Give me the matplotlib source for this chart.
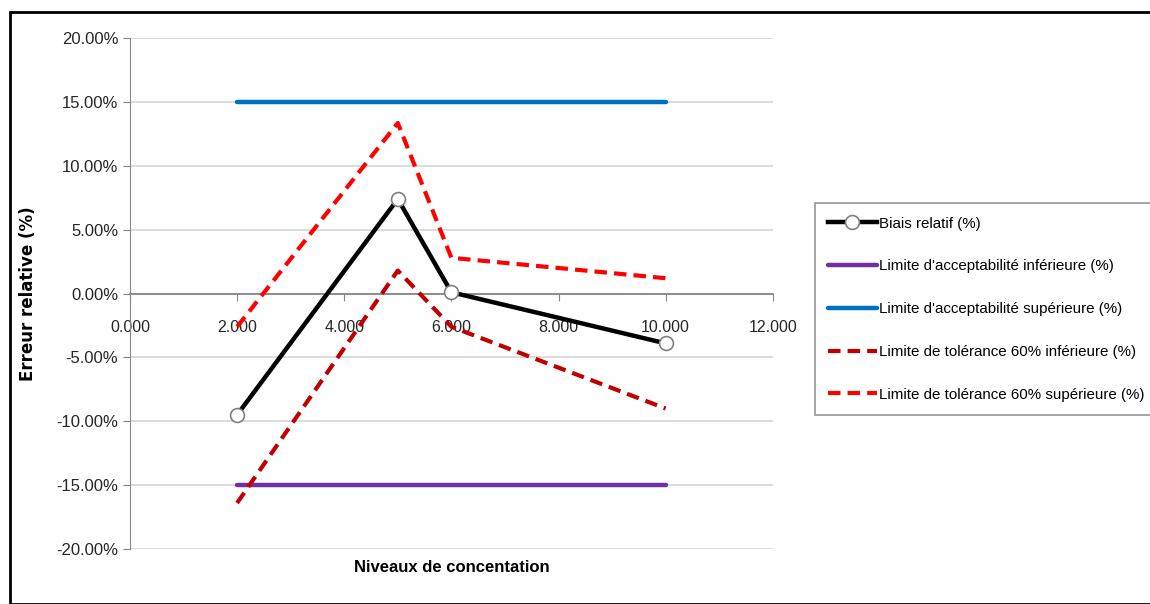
import matplotlib
matplotlib.use("Agg")
import matplotlib.pyplot as plt
from matplotlib.patches import Rectangle
from matplotlib.ticker import FuncFormatter, MultipleLocator

plt.rcParams["font.family"] = ["Liberation Sans", "DejaVu Sans"]

# concentration levels and relative errors (%)
levels = [2, 5, 6, 10]
bias = [-9.5, 7.4, 0.1, -3.9]
accept_low = [-15, -15, -15, -15]
accept_high = [15, 15, 15, 15]
tol_low = [-16.4, 1.8, -2.6, -9.0]
tol_high = [-2.6, 13.35, 2.8, 1.2]

fig = plt.figure(figsize=(11.5, 6.04), dpi=100)
ax = fig.add_axes([0.113, 0.091, 0.559, 0.846])

ax.plot(levels, accept_low, color="#7030A0", lw=3.2, solid_capstyle="round",
        label="Limite d'acceptabilité inférieure (%)", zorder=3)
ax.plot(levels, accept_high, color="#0070C0", lw=3.2, solid_capstyle="round",
        label="Limite d'acceptabilité supérieure (%)", zorder=3)
ax.plot(levels, tol_low, color="#C00000", lw=3, ls=(0, (3, 1.7)),
        label="Limite de tolérance 60% inférieure (%)", zorder=3)
ax.plot(levels, tol_high, color="#FF0000", lw=3, ls=(0, (3, 1.7)),
        label="Limite de tolérance 60% supérieure (%)", zorder=3)
ax.plot(levels, bias, color="black", lw=3.2, marker="o", ms=10,
        mfc="white", mec="#808080", mew=1.2,
        label="Biais relatif (%)", zorder=4)

ax.set_xlim(0, 12)
ax.set_ylim(-20, 20)
ax.xaxis.set_major_locator(MultipleLocator(2))
ax.yaxis.set_major_locator(MultipleLocator(5))
ax.xaxis.set_major_formatter(FuncFormatter(lambda v, p: f"{v:.3f}"))
ax.yaxis.set_major_formatter(FuncFormatter(lambda v, p: f"{v:.2f}%"))

ax.grid(axis="y", color="#D9D9D9", lw=1.3)
ax.set_axisbelow(True)
for side in ["top", "right"]:
    ax.spines[side].set_visible(False)
ax.spines["left"].set_color("#868686")
ax.spines["bottom"].set_position(("data", 0))
ax.spines["bottom"].set_color("#868686")
ax.spines["bottom"].set_linewidth(1.3)
ax.tick_params(axis="both", colors="#868686", length=5, labelcolor="#262626")
ax.tick_params(axis="x", labelsize=11.5, pad=14)
ax.tick_params(axis="y", labelsize=12)

ax.set_ylabel("Erreur relative (%)", fontsize=12, fontweight="bold",
              family=["DejaVu Sans"], labelpad=14)
ax.set_xlabel("Niveaux de concentation", fontsize=12, fontweight="bold")
ax.xaxis.set_label_coords(0.5, -0.022)

handles, labels = ax.get_legend_handles_labels()
order = [4, 0, 1, 2, 3]
leg = ax.legend([handles[i] for i in order], [labels[i] for i in order],
                loc="upper left", bbox_to_anchor=(1.065, 0.677),
                fontsize=10.9, frameon=True, fancybox=False,
                edgecolor="#868686", handlelength=3.2, handletextpad=0.15,
                labelspacing=1.9, borderpad=0.9, borderaxespad=0)
leg.get_frame().set_linewidth(1.3)

# outer border around the whole chart
fig.patches.append(Rectangle((0.009, 0.0), 1.0, 0.98, transform=fig.transFigure,
                             fill=False, edgecolor="black", lw=2))

fig.savefig("out.png", dpi=100)
